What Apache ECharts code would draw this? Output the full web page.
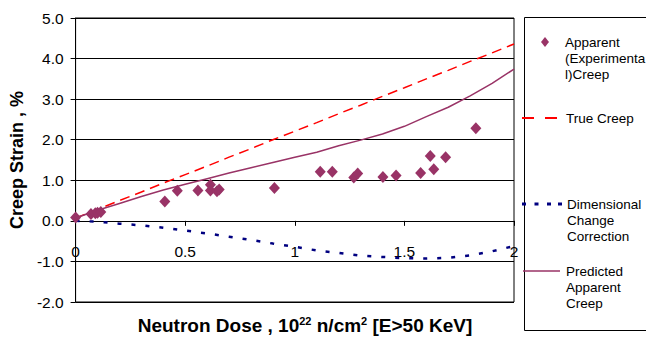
<!DOCTYPE html>
<html><head><meta charset="utf-8">
<script src="https://cdn.jsdelivr.net/npm/echarts@6/dist/echarts.min.js"></script>
<style>html,body{margin:0;padding:0;background:#fff}#c{width:646px;height:337px}</style>
</head><body><div id="c"></div>
<script>
// ---- data ----
const seriesNames = ['Apparent (Experimental)Creep', 'True Creep', 'Dimensional Change Correction', 'Predicted Apparent Creep'];
const legendText = ['Apparent\n(Experimenta\nl)Creep', 'True Creep', 'Dimensional\nChange\nCorrection', 'Predicted\nApparent\nCreep'];
const xTickLabels = ['0', '0.5', '1', '1.5', '2'];
const yTickLabels = ['-2.0', '-1.0', '0.0', '1.0', '2.0', '3.0', '4.0', '5.0'];
const xTitle = 'Neutron Dose , 10{s|22} n/cm{s|2} [E>50 KeV]';
const yTitle = 'Creep Strain , %';

const apparentDose   = [0, 0.07, 0.09, 0.10, 0.115, 0.407, 0.464, 0.558, 0.615, 0.615, 0.645, 0.655, 0.907, 1.116, 1.171, 1.269, 1.287, 1.402, 1.462, 1.574, 1.618, 1.634, 1.688, 1.826];
const apparentStrain = [0.08, 0.17, 0.19, 0.20, 0.22, 0.48, 0.74, 0.75, 0.89, 0.75, 0.73, 0.77, 0.81, 1.21, 1.21, 1.07, 1.17, 1.08, 1.12, 1.18, 1.60, 1.27, 1.57, 2.28];

const curveDose  = [0, 0.1, 0.2, 0.3, 0.4, 0.5, 0.6, 0.7, 0.8, 0.9, 1.0, 1.1, 1.2, 1.3, 1.4, 1.5, 1.6, 1.7, 1.8, 1.9, 2.0];
const trueCreep  = [0.07, 0.28, 0.50, 0.71, 0.93, 1.14, 1.35, 1.57, 1.78, 2.00, 2.21, 2.42, 2.64, 2.85, 3.07, 3.28, 3.50, 3.71, 3.93, 4.14, 4.36];
const dimChange  = [0, -0.02, -0.07, -0.11, -0.17, -0.24, -0.31, -0.39, -0.47, -0.56, -0.64, -0.73, -0.79, -0.86, -0.89, -0.92, -0.93, -0.91, -0.85, -0.75, -0.62];
const predicted  = [0.07, 0.26, 0.43, 0.60, 0.76, 0.90, 1.04, 1.18, 1.31, 1.44, 1.57, 1.69, 1.85, 1.99, 2.14, 2.33, 2.57, 2.80, 3.08, 3.39, 3.74];

// ---- chart ----
const FONT = '"Liberation Sans", Arial, sans-serif';
const pair = (xs, ys) => xs.map((x, i) => [x, ys[i]]);
const chart = echarts.init(document.getElementById('c'), null, {renderer: 'svg'});

const GRID_TOP = 18, GRID_H = 284;
const zeroOffset = -GRID_H * (0 - (-2)) / (5 - (-2)); // move x axis up to y = 0

const legendTextStyle = pad => ({fontSize: 13.5, lineHeight: 16, fontFamily: FONT, color: '#000', padding: [0, 0, 0, pad]});
// multi-line entries: two leading blank lines so the icon sits beside the first text line
const legendFmt = multi => n => {
  const t = legendText[seriesNames.indexOf(n)];
  return multi ? '\n\n' + t : t;
};

chart.setOption({
  animation: false,
  backgroundColor: '#fff',
  grid: {left: 72, right: 132, top: GRID_TOP, height: GRID_H, show: true, borderColor: '#000', borderWidth: 1},
  xAxis: {
    type: 'value', min: 0, max: 2, interval: 0.5,
    offset: zeroOffset,
    axisLine: {onZero: false, lineStyle: {color: '#000', width: 1}},
    axisTick: {show: true, length: 5, lineStyle: {color: '#000'}},
    axisLabel: {margin: 23, fontSize: 15.5, fontFamily: FONT, color: '#000',
      formatter: v => xTickLabels[Math.round(v / 0.5)]},
    splitLine: {show: false}
  },
  yAxis: {
    type: 'value', min: -2, max: 5, interval: 1,
    name: yTitle, nameLocation: 'middle', nameRotate: 90, nameGap: 33,
    nameTextStyle: {fontSize: 18, fontWeight: 'bold', fontFamily: FONT, color: '#000'},
    axisLine: {show: true, onZero: false, lineStyle: {color: '#000', width: 1}},
    axisTick: {show: true, length: 5, lineStyle: {color: '#000'}},
    axisLabel: {margin: 12, fontSize: 15.5, fontFamily: FONT, color: '#000',
      formatter: v => yTickLabels[Math.round(v + 2)]},
    splitLine: {show: true, lineStyle: {color: '#000', width: 1}}
  },
  legend: [
    {data: [seriesNames[0]], orient: 'vertical', padding: 0, left: 541, top: 2,
      itemWidth: 8, itemHeight: 10, icon: 'diamond', formatter: legendFmt(true), textStyle: legendTextStyle(11)},
    {data: [seriesNames[1]], orient: 'vertical', padding: 0, left: 522, top: 110,
      itemWidth: 35, itemHeight: 2, icon: 'path://M0,0H12V2H0Z M23,0H35V2H23Z', formatter: legendFmt(false), textStyle: legendTextStyle(4)},
    {data: [seriesNames[2]], orient: 'vertical', padding: 0, left: 522, top: 164,
      itemWidth: 40, itemHeight: 3, icon: 'path://M0,0H4V3H0Z M12.5,0H16.5V3H12.5Z M25,0H29V3H25Z M36,0H40V3H36Z', formatter: legendFmt(true), textStyle: legendTextStyle(0)},
    {data: [seriesNames[3]], orient: 'vertical', padding: 0, left: 523, top: 231,
      itemWidth: 37, itemHeight: 1.5, icon: 'path://M0,0H37V1.5H0Z', formatter: legendFmt(true), textStyle: legendTextStyle(1)}
  ],
  graphic: [
    {type: 'rect', left: 522, top: 15, shape: {width: 200, height: 313}, style: {fill: 'none', stroke: '#000', lineWidth: 1}, silent: true, z: -1},
    {type: 'text', x: 305, y: 325, style: {text: xTitle, align: 'center', verticalAlign: 'middle',
      fontSize: 19, fontWeight: 'bold', fontFamily: FONT, fill: '#000',
      rich: {s: {fontSize: 11, fontWeight: 'bold', fontFamily: FONT, verticalAlign: 'top', fill: '#000'}}}}
  ],
  series: [
    {name: seriesNames[1], type: 'line', data: pair(curveDose, trueCreep), symbol: 'none', z: 3,
      lineStyle: {color: '#ff0000', width: 1.5, type: [10, 6]}, itemStyle: {color: '#ff0000'}},
    {name: seriesNames[2], type: 'line', data: pair(curveDose, dimChange), symbol: 'none', z: 3,
      lineStyle: {color: '#000080', width: 2.5, type: [4, 10]}, itemStyle: {color: '#000080'}},
    {name: seriesNames[3], type: 'line', data: pair(curveDose, predicted), symbol: 'none', z: 3,
      lineStyle: {color: '#993366', width: 1.5, type: 'solid'}, itemStyle: {color: '#993366'}},
    {name: seriesNames[0], type: 'scatter', data: pair(apparentDose, apparentStrain), symbol: 'diamond',
      symbolSize: [11, 12], z: 5, itemStyle: {color: '#993366', opacity: 1}}
  ]
});
</script></body></html>
